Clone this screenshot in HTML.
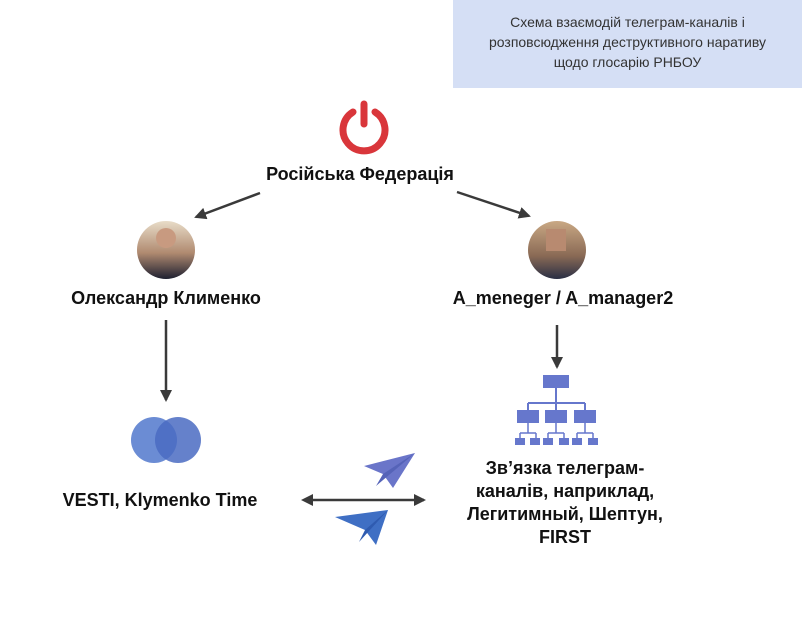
<!DOCTYPE html>
<html><head><meta charset="utf-8"><style>
body{margin:0;width:802px;height:619px;background:#fff;position:relative;overflow:hidden;font-family:"Liberation Sans",sans-serif;}
.t{position:absolute;font-weight:bold;font-size:18px;color:#111;text-align:center;white-space:nowrap;}
.box{position:absolute;left:453px;top:0;width:349px;height:88px;background:#d5dff5;color:#333;font-size:14px;line-height:20px;text-align:center;padding-top:12px;box-sizing:border-box;}
</style></head><body>
<div class="box">Схема взаємодій телеграм-каналів і<br>розповсюдження деструктивного наративу<br>щодо глосарію РНБОУ</div>
<svg width="802" height="619" style="position:absolute;left:0;top:0">
<defs>
<marker id="b" markerWidth="12" markerHeight="12" refX="10" refY="6" orient="auto" markerUnits="userSpaceOnUse"><path d="M0,0L12,6L0,12z" fill="#3a3a3a"/></marker>
<linearGradient id="g1" x1="0" y1="0" x2="0" y2="1"><stop offset="0" stop-color="#c9a884"/><stop offset="0.6" stop-color="#8a6a55"/><stop offset="1" stop-color="#2a2f45"/></linearGradient>
<linearGradient id="g2" x1="0" y1="0" x2="0" y2="1"><stop offset="0" stop-color="#e8dcc8"/><stop offset="0.55" stop-color="#b08a70"/><stop offset="1" stop-color="#1e2030"/></linearGradient>
</defs>
<path d="M353,112 A21,21 0 1 0 375,112" fill="none" stroke="#d9363b" stroke-width="7" stroke-linecap="round"/>
<line x1="364" y1="104" x2="364" y2="124" stroke="#d9363b" stroke-width="7" stroke-linecap="round"/>
<line x1="260" y1="193" x2="196" y2="217" stroke="#3a3a3a" stroke-width="2.5" marker-end="url(#b)"/>
<line x1="457" y1="192" x2="529" y2="216" stroke="#3a3a3a" stroke-width="2.5" marker-end="url(#b)"/>
<line x1="166" y1="320" x2="166" y2="400" stroke="#3a3a3a" stroke-width="2.5" marker-end="url(#b)"/>
<line x1="557" y1="325" x2="557" y2="367" stroke="#3a3a3a" stroke-width="2.5" marker-end="url(#b)"/>
<line x1="312" y1="500" x2="424" y2="500" stroke="#3a3a3a" stroke-width="2.5" marker-end="url(#b)"/>
<path d="M301,500L313,494L313,506z" fill="#3a3a3a"/>
<circle cx="166" cy="250" r="29" fill="url(#g2)"/>
<circle cx="166" cy="238" r="10" fill="#c89a80"/>
<circle cx="557" cy="250" r="29" fill="url(#g1)"/>
<rect x="546" y="229" width="20" height="22" fill="#b88a70"/>
<circle cx="154" cy="440" r="23" fill="#5b7fcf" opacity="0.9"/>
<circle cx="178" cy="440" r="23" fill="#4a6bc2" opacity="0.85"/>
<g fill="#6677cc" stroke="#6677cc">
<rect x="543" y="375" width="26" height="13" stroke="none"/>
<line x1="556" y1="388" x2="556" y2="403" stroke-width="2"/>
<line x1="528" y1="403" x2="585" y2="403" stroke-width="2"/>
<line x1="528" y1="403" x2="528" y2="410" stroke-width="2"/>
<line x1="556" y1="403" x2="556" y2="410" stroke-width="2"/>
<line x1="585" y1="403" x2="585" y2="410" stroke-width="2"/>
<rect x="517" y="410" width="22" height="13" stroke="none"/>
<rect x="545" y="410" width="22" height="13" stroke="none"/>
<rect x="574" y="410" width="22" height="13" stroke="none"/>
<g stroke-width="1.5">
<line x1="528" y1="423" x2="528" y2="433"/><line x1="520" y1="433" x2="536" y2="433"/>
<line x1="556" y1="423" x2="556" y2="433"/><line x1="548" y1="433" x2="564" y2="433"/>
<line x1="585" y1="423" x2="585" y2="433"/><line x1="577" y1="433" x2="593" y2="433"/>
</g>
<rect x="515" y="438" width="10" height="7" stroke="none"/><rect x="530" y="438" width="10" height="7" stroke="none"/>
<rect x="543" y="438" width="10" height="7" stroke="none"/><rect x="559" y="438" width="10" height="7" stroke="none"/>
<rect x="572" y="438" width="10" height="7" stroke="none"/><rect x="588" y="438" width="10" height="7" stroke="none"/>
<line x1="520" y1="433" x2="520" y2="438" stroke-width="1.5"/><line x1="536" y1="433" x2="536" y2="438" stroke-width="1.5"/>
<line x1="548" y1="433" x2="548" y2="438" stroke-width="1.5"/><line x1="564" y1="433" x2="564" y2="438" stroke-width="1.5"/>
<line x1="577" y1="433" x2="577" y2="438" stroke-width="1.5"/><line x1="593" y1="433" x2="593" y2="438" stroke-width="1.5"/>
</g>
<path d="M364,466L415,453L393,488L383,474z" fill="#6a75c9"/>
<path d="M383,474L415,453L376,486z" fill="#5563b8"/>
<path d="M335,517L388,510L376,545L365,530z" fill="#3f6fc4"/>
<path d="M365,530L388,510L359,542z" fill="#2f5bb0"/>
</svg>
<div class="t" style="left:210px;top:164px;width:300px">Російська Федерація</div>
<div class="t" style="left:16px;top:288px;width:300px">Олександр Клименко</div>
<div class="t" style="left:413px;top:288px;width:300px">A_meneger / A_manager2</div>
<div class="t" style="left:10px;top:490px;width:300px">VESTI, Klymenko Time</div>
<div class="t" style="left:415px;top:457px;width:300px;line-height:23px">Зв’язка телеграм-<br>каналів, наприклад,<br>Легитимный, Шептун,<br>FIRST</div>
</body></html>
